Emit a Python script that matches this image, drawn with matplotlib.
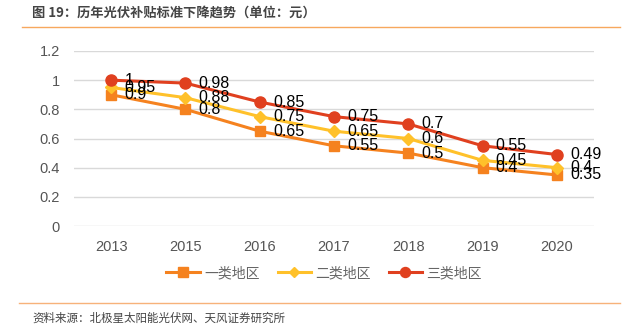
import matplotlib
matplotlib.use("Agg")
import matplotlib.pyplot as plt
from matplotlib.lines import Line2D

plt.rcParams['font.family'] = ['Noto Sans CJK SC', 'DejaVu Sans']

years = ['2013', '2015', '2016', '2017', '2018', '2019', '2020']
series_names = ['一类地区', '二类地区', '三类地区']
s1 = [0.9, 0.8, 0.65, 0.55, 0.5, 0.4, 0.35]
s2 = [0.95, 0.88, 0.75, 0.65, 0.6, 0.45, 0.4]
s3 = [1.0, 0.98, 0.85, 0.75, 0.7, 0.55, 0.49]
yticks = [0, 0.2, 0.4, 0.6, 0.8, 1, 1.2]
ytick_labels = ['0', '0.2', '0.4', '0.6', '0.8', '1', '1.2']

colors = ['#F5821F', '#FFC12A', '#E0401F']
markers = ['s', 'D', 'o']
msizes = [7.5, 6, 8]

W, H = 635, 327
fig = plt.figure(figsize=(W / 100, H / 100), dpi=100)
ax = fig.add_axes([74 / W, 1 - 226 / H, (594 - 74) / W, (226 - 51) / H])

x = list(range(len(years)))
for vals, c, m, ms, name in zip([s1, s2, s3], colors, markers, msizes, series_names):
    ax.plot(x, vals, color=c, lw=2.2, marker=m, ms=ms, label=name, zorder=3)
    for xi, v in zip(x, vals):
        ax.annotate(f'{v:g}', (xi, v), xytext=(9.5, 0), textcoords='offset points',
                    va='center', ha='left', fontsize=11.5, color='black',
                    family='Liberation Sans', zorder=4)

ax.set_xlim(-0.5, len(years) - 0.5)
ax.set_ylim(0, 1.2)
ax.set_yticks(yticks)
ax.set_yticklabels(ytick_labels)
ax.set_xticks(x)
ax.set_xticklabels(years)
ax.tick_params(axis='both', length=0, labelsize=10.5, colors='#555555', pad=10)
for lab in ax.get_yticklabels() + ax.get_xticklabels():
    lab.set_family('Liberation Sans')
ax.yaxis.grid(True, color='#D9D9D9', lw=1)
ax.set_axisbelow(True)
for sp in ax.spines.values():
    sp.set_visible(False)

handles = [Line2D([0], [0], color=c, lw=2.2, marker=m, ms=ms * 0.9)
           for c, m, ms in zip(colors, markers, msizes)]
leg = fig.legend(handles, series_names, loc='center', bbox_to_anchor=(324 / W, 1 - 273 / H),
                 ncol=3, frameon=False, fontsize=10, handlelength=2.4, columnspacing=1.3,
                 handletextpad=0.3)
for t in leg.get_texts():
    t.set_color('#666666')

fig.text(32 / W, 1 - 13 / H, '图 19：历年光伏补贴标准下降趋势（单位：元）', fontsize=9.5,
         fontweight='bold', color='#444444', va='center', ha='left')
fig.add_artist(Line2D([22 / W, 620 / W], [1 - 27 / H, 1 - 27 / H], color='#F7A85E', lw=1))
fig.add_artist(Line2D([19 / W, 620 / W], [1 - 303 / H, 1 - 303 / H], color='#F7B27A', lw=1))
fig.text(32 / W, 1 - 318 / H, '资料来源：北极星太阳能光伏网、天风证券研究所', fontsize=8.3,
         color='#444444', va='center', ha='left')

fig.savefig('out.png', dpi=100)
